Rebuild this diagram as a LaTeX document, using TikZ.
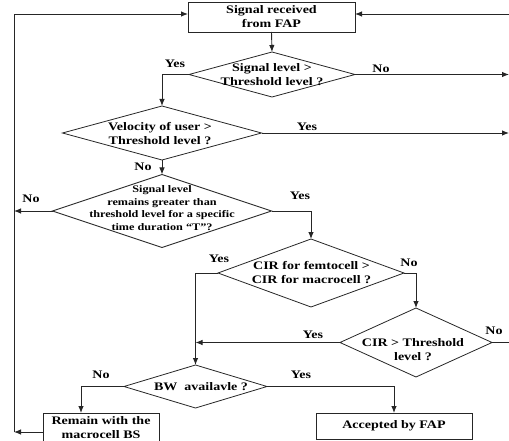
\documentclass[tikz,border=0pt]{standalone}
\usepackage{fontspec}
\setmainfont{Liberation Serif}[FakeStretch=1.22]
\usetikzlibrary{shapes.geometric,arrows.meta,calc}
\begin{document}
\begin{tikzpicture}[x=1pt,y=-1pt,
  ln/.style={draw=black!85, line width=0.9pt},
  arr/.style={ln, -{Latex[length=7pt,width=5.5pt]}},
  dia/.style 2 args={diamond, draw=black!85, line width=0.8pt, inner sep=0pt, outer sep=0pt, minimum width=#1, minimum height=#2},
  box/.style 2 args={rectangle, draw=black!85, line width=0.8pt, inner sep=0pt, outer sep=0pt, minimum width=#1, minimum height=#2},
  txt/.style={font=\bfseries\fontsize{11.5}{14}\selectfont, align=center, inner sep=0pt},
  stxt/.style={font=\bfseries\fontsize{10}{12.5}\selectfont, align=center, inner sep=0pt},
  lab/.style={font=\bfseries\fontsize{11.5}{14}\selectfont, inner sep=0pt}]
\useasboundingbox (0,0) rectangle (509,441);
\clip (0,0) rectangle (509,441);
% nodes
\node[box={167}{30}] (top) at (271.5,17) {};
\node[txt] (ttop) at (271.5,16.5) {Signal received\\from FAP};
\node[dia={166}{45}] (d1) at (272,74.5) {};
\node[txt] (t1) at (272,75) {Signal level \textgreater\\Threshold level ?};
\node[dia={199}{54}] (d2) at (162,133) {};
\node[txt] (t2) at (160,133.5) {Velocity of user \textgreater\\Threshold level ?};
\node[dia={219}{73}] (d3) at (162,211) {};
\node[stxt] (t3) at (162,208) {Signal level\\remains greater than\\threshold level for a specific\\time duration “T”?};
\node[dia={186}{68}] (d4) at (311,273) {};
\node[txt] (t4) at (311.5,272.5) {CIR for femtocell \textgreater\\CIR for macrocell ?};
\node[dia={152}{69}] (d5) at (416,342.5) {};
\node[txt] (t5) at (413,349.5) {CIR \textgreater\ Threshold\\level ?};
\node[dia={143}{43}] (d6) at (195.5,386.5) {};
\node[txt] (t6) at (201,387) {BW\ \ availavle ?};
\node[box={116}{32}] (remain) at (101,429) {};
\node[txt] (tr) at (101,427.5) {Remain with the\\macrocell BS};
\node[box={156}{26}] (acc) at (394,426) {};
\node[txt] (ta) at (394,425.5) {Accepted by FAP};
% frame coordinates
\coordinate (LT) at (14,14);
\coordinate (LB) at (14,432);
\coordinate (RT) at (509,14);
\coordinate (nb) at (81,0);
% connectors
\draw[arr] (top.south) -- (d1.north);
\draw[arr] (d1.west) -| (d2.north);
\draw[arr] (d1.east) -- (d1.east -| RT);
\draw[arr] (d2.east) -- (d2.east -| RT);
\draw[arr] (d2.south) -- (d3.north);
\draw[arr] (d3.west) -- (d3.west -| LT);
\draw[arr] (d3.east) -| (d4.north);
\draw[arr] (d4.west) -| (d6.north);
\draw[arr] (d4.east) -| (d5.north);
\draw[arr] (d5.west) -- (d5.west -| d6.north);
\draw[ln] (d5.east) -- (d5.east -| RT);
\draw[arr] (d6.west) -| (nb |- remain.north);
\draw[arr] (d6.east) -| (acc.north);
\draw[arr] (remain.west |- LB) -- (LB);
\draw[ln] (LB) -- (LT);
\draw[arr] (LT) -- (LT -| top.west);
\draw[arr] (RT) -- (RT -| top.east);
% labels
\node[lab] (l1y) at (175,64) {Yes};
\node[lab] (l1n) at (381,69) {No};
\node[lab] (l2y) at (307,127) {Yes};
\node[lab] (l2n) at (143,167) {No};
\node[lab] (l3n) at (31,199) {No};
\node[lab] (l3y) at (300,196) {Yes};
\node[lab] (l4y) at (219,259) {Yes};
\node[lab] (l4n) at (409,263) {No};
\node[lab] (l5y) at (313,335) {Yes};
\node[lab] (l5n) at (494,331) {No};
\node[lab] (l6n) at (101,375) {No};
\node[lab] (l6y) at (301,375) {Yes};
\end{tikzpicture}
\end{document}
